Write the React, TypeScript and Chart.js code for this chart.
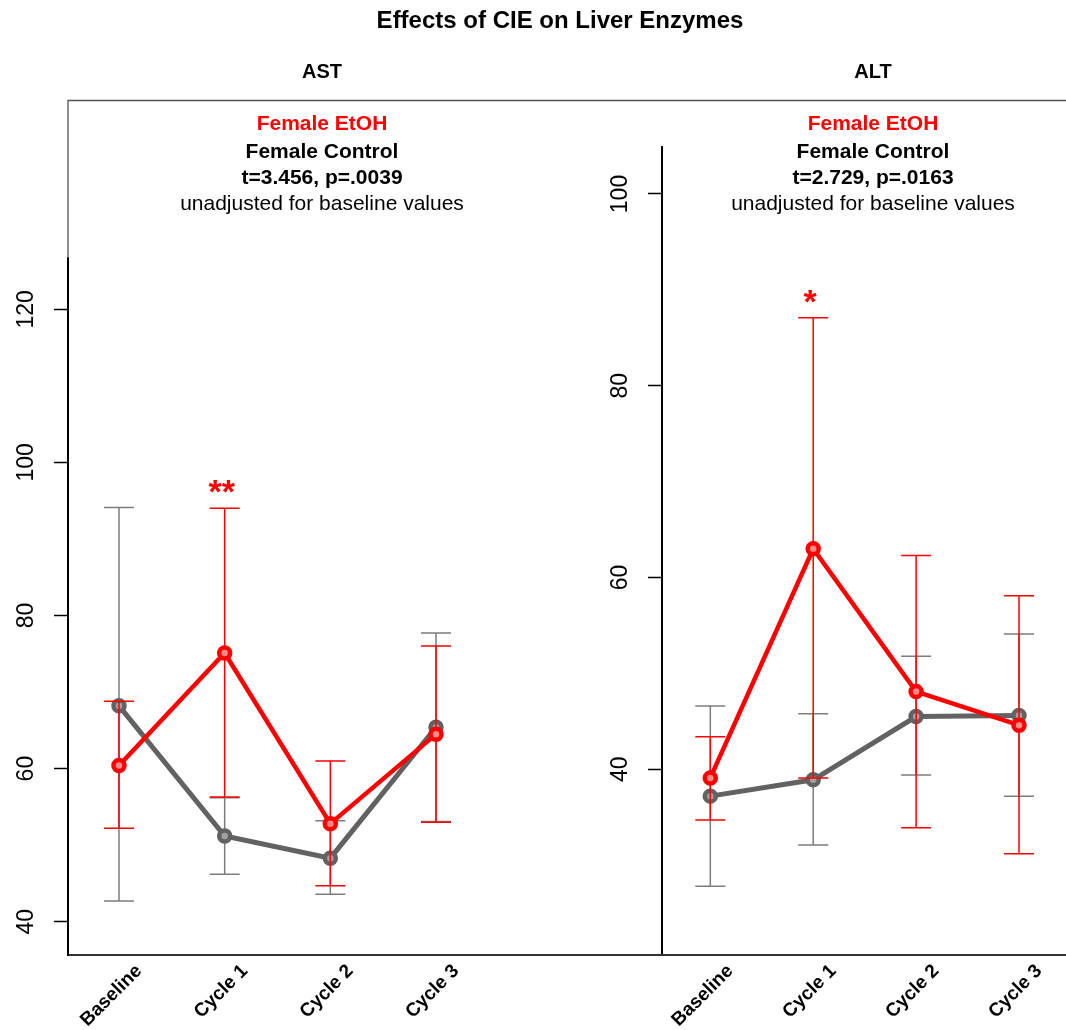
import React, { useEffect, useRef } from 'react';
import { Chart, registerables } from 'chart.js';

Chart.register(...registerables);

const FONT = '"Liberation Sans", Arial, Helvetica, sans-serif';
Chart.defaults.font.family = FONT;

// ---------- data ----------
const categories = ['Baseline', 'Cycle 1', 'Cycle 2', 'Cycle 3'];
const categoryIndex = [0, 1, 2, 3];

const astControlMean = [68.2, 51.2, 48.3, 65.4];
const astControlLower = [42.7, 46.2, 43.6, 53.1];
const astControlUpper = [94.1, 56.2, 53.2, 77.7];
const astEtohMean = [60.4, 75.1, 52.8, 64.5];
const astEtohLower = [52.2, 56.3, 44.7, 53.0];
const astEtohUpper = [68.8, 94.0, 61.0, 76.0];
const astStars = ['', '**', '', ''];
const astTicks = [40, 60, 80, 100, 120];

const altControlMean = [37.2, 38.9, 45.5, 45.6];
const altControlLower = [27.8, 32.1, 39.4, 37.2];
const altControlUpper = [46.6, 45.8, 51.8, 54.1];
const altEtohMean = [39.1, 63.0, 48.1, 44.6];
const altEtohLower = [34.7, 39.1, 33.9, 31.2];
const altEtohUpper = [43.4, 87.1, 62.3, 58.1];
const altStars = ['', '*', '', ''];
const altTicks = [40, 60, 80, 100];

const mainTitle = 'Effects of CIE on Liver Enzymes';
const seriesNames = ['Female EtOH', 'Female Control'];
const astTitle = 'AST';
const altTitle = 'ALT';
const astStat = 't=3.456, p=.0039';
const altStat = 't=2.729, p=.0163';
const noteText = 'unadjusted for baseline values';

// ---------- styles ----------
const RED = '#ff0000';
const RED_FILL = '#ff8a8a';
const GRAY_LINE = '#626262';
const GRAY_FILL = '#a0a0a0';
const GRAY_BAR = '#7c7c7c';

type Panel = {
  title: string;
  stat: string;
  centerX: number;
  xMin: number;
  xMax: number;
  yMin: number;
  yMax: number;
  ticks: number[];
  stars: string[];
  control: { mean: number[]; lower: number[]; upper: number[] };
  etoh: { mean: number[]; lower: number[]; upper: number[] };
  padTop: number;
  yAxisWidth: number;
  xAxisHeight: number;
  xLabelPadding: number;
  showXBorder: boolean;
  drawFrame: boolean;
};

const panels: Panel[] = [
  {
    title: astTitle,
    stat: astStat,
    centerX: 322,
    xMin: -0.4826,
    xMax: 8.962,
    yMin: 35.65,
    yMax: 126.7,
    ticks: astTicks,
    stars: astStars,
    control: { mean: astControlMean, lower: astControlLower, upper: astControlUpper },
    etoh: { mean: astEtohMean, lower: astEtohLower, upper: astEtohUpper },
    padTop: 258,
    yAxisWidth: 68,
    xAxisHeight: 75,
    xLabelPadding: 5,
    showXBorder: true,
    drawFrame: true,
  },
  {
    title: altTitle,
    stat: altStat,
    centerX: 873,
    xMin: -0.4694,
    xMax: 3.4567,
    yMin: 20.84,
    yMax: 104.9,
    ticks: altTicks,
    stars: altStars,
    control: { mean: altControlMean, lower: altControlLower, upper: altControlUpper },
    etoh: { mean: altEtohMean, lower: altEtohLower, upper: altEtohUpper },
    padTop: 147,
    yAxisWidth: 662,
    xAxisHeight: 77,
    xLabelPadding: 7,
    showXBorder: false,
    drawFrame: false,
  },
];

const toPoints = (vals: number[]) => categoryIndex.map((x, i) => ({ x, y: vals[i] }));

function makeConfig(p: Panel): any {
  const bars = [
    { lower: p.etoh.lower, upper: p.etoh.upper, color: RED },
    { lower: p.control.lower, upper: p.control.upper, color: GRAY_BAR },
  ];

  const errorBarPlugin = {
    id: 'errorBars',
    beforeDatasetDraw(chart: any, args: any) {
      const b = bars[args.index];
      if (!b) return;
      const { ctx } = chart;
      const xs = chart.scales.x;
      const ys = chart.scales.y;
      ctx.save();
      ctx.strokeStyle = b.color;
      ctx.lineWidth = 1.5;
      categoryIndex.forEach((xv, i) => {
        const x = xs.getPixelForValue(xv);
        const y1 = ys.getPixelForValue(b.lower[i]);
        const y2 = ys.getPixelForValue(b.upper[i]);
        ctx.beginPath();
        ctx.moveTo(x, y1);
        ctx.lineTo(x, y2);
        ctx.moveTo(x - 15, y1);
        ctx.lineTo(x + 15, y1);
        ctx.moveTo(x - 15, y2);
        ctx.lineTo(x + 15, y2);
        ctx.stroke();
      });
      ctx.restore();
    },
  };

  const textPlugin = {
    id: 'panelText',
    afterDraw(chart: any) {
      const { ctx } = chart;
      const xs = chart.scales.x;
      const ys = chart.scales.y;
      ctx.save();
      ctx.textAlign = 'center';
      ctx.textBaseline = 'middle';

      if (p.drawFrame) {
        ctx.fillStyle = '#000';
        ctx.font = `bold 24px ${FONT}`;
        ctx.fillText(mainTitle, 560, 21);
        // frame around the panels
        ctx.strokeStyle = '#555';
        ctx.lineWidth = 1.3;
        ctx.beginPath();
        ctx.moveTo(68, chart.chartArea.top);
        ctx.lineTo(68, 100.5);
        ctx.lineTo(1066, 100.5);
        ctx.stroke();
      }

      ctx.fillStyle = '#000';
      ctx.font = `bold 20px ${FONT}`;
      ctx.fillText(p.title, p.centerX, 72);

      ctx.font = `bold 21px ${FONT}`;
      ctx.fillStyle = RED;
      ctx.fillText(seriesNames[0], p.centerX, 124);
      ctx.fillStyle = '#000';
      ctx.fillText(seriesNames[1], p.centerX, 152);
      ctx.fillText(p.stat, p.centerX, 178);
      ctx.font = `21px ${FONT}`;
      ctx.fillText(noteText, p.centerX, 204);

      // significance stars
      ctx.fillStyle = RED;
      ctx.font = `bold 34px ${FONT}`;
      ctx.textBaseline = 'alphabetic';
      p.stars.forEach((s, i) => {
        if (!s) return;
        const x = xs.getPixelForValue(categoryIndex[i]) - 3;
        const y = ys.getPixelForValue(p.etoh.upper[i]) - 24;
        ctx.fillText(s, x, y + 19);
      });
      ctx.restore();
    },
  };

  return {
    type: 'line',
    data: {
      datasets: [
        {
          label: seriesNames[0],
          data: toPoints(p.etoh.mean),
          borderColor: RED,
          borderWidth: 4.5,
          pointRadius: 5.5,
          pointBorderWidth: 4.5,
          pointBackgroundColor: RED_FILL,
          pointBorderColor: RED,
          order: 0,
        },
        {
          label: seriesNames[1],
          data: toPoints(p.control.mean),
          borderColor: GRAY_LINE,
          borderWidth: 5,
          pointRadius: 5.5,
          pointBorderWidth: 4.5,
          pointBackgroundColor: GRAY_FILL,
          pointBorderColor: GRAY_LINE,
          order: 1,
        },
      ],
    },
    options: {
      responsive: false,
      animation: false,
      devicePixelRatio: 1,
      layout: { padding: { top: p.padTop, left: 0, right: 0, bottom: 0 }, autoPadding: false },
      plugins: { legend: { display: false }, tooltip: { enabled: false }, title: { display: false } },
      scales: {
        x: {
          type: 'linear',
          min: p.xMin,
          max: p.xMax,
          afterBuildTicks: (s: any) => {
            s.ticks = categoryIndex.map((v) => ({ value: v }));
          },
          afterFit: (s: any) => {
            s.height = p.xAxisHeight;
          },
          grid: { display: false, drawTicks: false },
          border: { display: p.showXBorder, color: '#333', width: 2 },
          ticks: {
            autoSkip: false,
            minRotation: 45,
            maxRotation: 45,
            padding: p.xLabelPadding,
            labelOffset: 20,
            color: '#000',
            font: { family: FONT, size: 19, weight: 'bold' },
            callback: (v: any) => categories[v] ?? '',
          },
        },
        y: {
          type: 'linear',
          min: p.yMin,
          max: p.yMax,
          afterBuildTicks: (s: any) => {
            s.ticks = p.ticks.map((v) => ({ value: v }));
          },
          afterFit: (s: any) => {
            s.width = p.yAxisWidth;
          },
          grid: { drawOnChartArea: false, drawTicks: true, tickLength: 14, tickColor: '#000', tickWidth: 1.5 },
          border: { display: true, color: '#000', width: 2 },
          ticks: {
            minRotation: 90,
            maxRotation: 90,
            crossAlign: 'center',
            padding: 8,
            color: '#000',
            font: { family: FONT, size: 23 },
          },
        },
      },
    },
    plugins: [errorBarPlugin, textPlugin],
  };
}

function PanelCanvas({ panel }: { panel: Panel }) {
  const ref = useRef<HTMLCanvasElement | null>(null);
  useEffect(() => {
    if (!ref.current) return;
    const chart = new Chart(ref.current, makeConfig(panel));
    return () => chart.destroy();
  }, [panel]);
  return (
    <canvas
      ref={ref}
      width={1066}
      height={1030}
      style={{ position: 'absolute', left: 0, top: 0, width: 1066, height: 1030, display: 'block' }}
    />
  );
}

export default function App() {
  useEffect(() => {
    document.body.style.margin = '0';
  }, []);
  return (
    <div style={{ position: 'absolute', left: 0, top: 0, width: 1066, height: 1030, background: '#fff' }}>
      {panels.map((p, i) => (
        <PanelCanvas key={i} panel={p} />
      ))}
    </div>
  );
}
